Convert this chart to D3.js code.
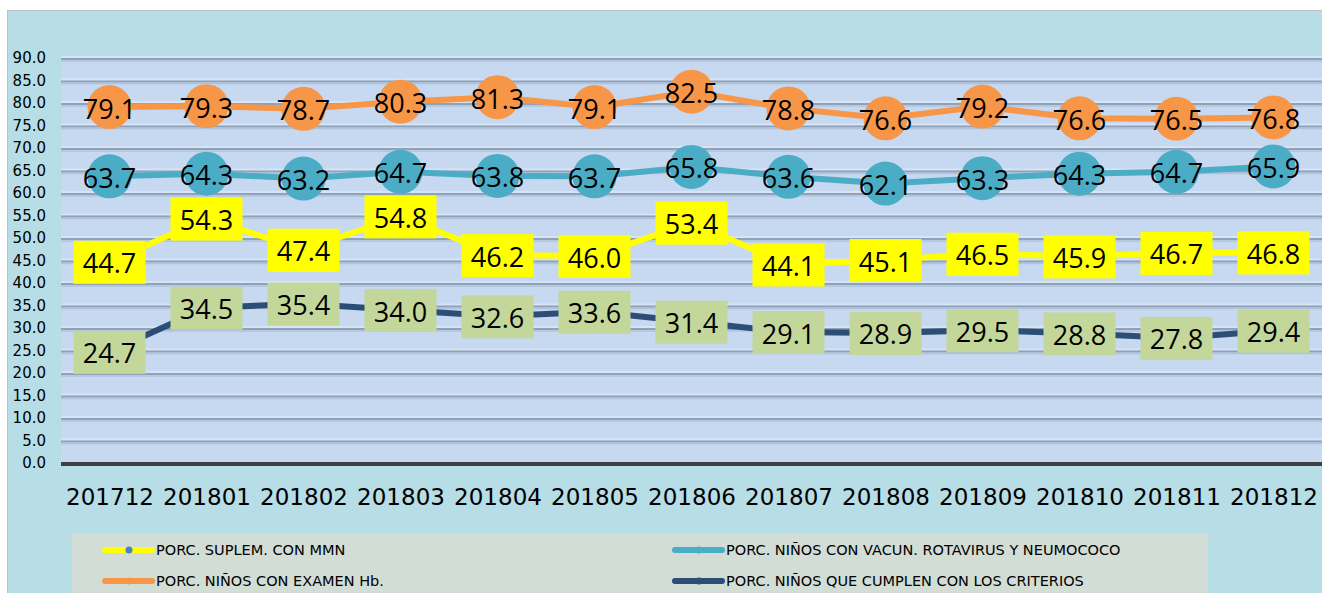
<!DOCTYPE html>
<html>
<head>
<meta charset="utf-8">
<script src="https://cdn.jsdelivr.net/npm/d3@7"></script>
<style>
  body { margin: 0; background: #fff; }
  svg { display: block; }
  text { font-family: "DejaVu Sans", sans-serif; }
</style>
</head>
<body>
<div class="chart"></div>
<script>
// months on the x axis
const months = ['201712','201801','201802','201803','201804','201805','201806',
                '201807','201808','201809','201810','201811','201812'];

// the four series
const examenHb   = [79.1, 79.3, 78.7, 80.3, 81.3, 79.1, 82.5, 78.8, 76.6, 79.2, 76.6, 76.5, 76.8];
const vacunas    = [63.7, 64.3, 63.2, 64.7, 63.8, 63.7, 65.8, 63.6, 62.1, 63.3, 64.3, 64.7, 65.9];
const suplemMMN  = [44.7, 54.3, 47.4, 54.8, 46.2, 46.0, 53.4, 44.1, 45.1, 46.5, 45.9, 46.7, 46.8];
const criterios  = [24.7, 34.5, 35.4, 34.0, 32.6, 33.6, 31.4, 29.1, 28.9, 29.5, 28.8, 27.8, 29.4];

const yTicks = d3.range(0, 90.1, 5);

const W = 1322, H = 593;
const margin = {top: 58, bottom: 130, left: 61, right: 0};

const svg = d3.select('.chart').append('svg')
  .attr('width', W).attr('height', H);

// outer frame
svg.append('rect')
  .attr('x', 7.5).attr('y', 10.5)
  .attr('width', W).attr('height', H)
  .attr('fill', '#b7dde7').attr('stroke', '#bfbfbf');

const x = d3.scalePoint().domain(months)
  .range([margin.left, W - margin.right]).padding(0.5);
const y = d3.scaleLinear().domain([0, 90]).range([463, 58]);

// plot background
svg.append('rect')
  .attr('x', margin.left).attr('y', y(90))
  .attr('width', W - margin.left).attr('height', y(0) - y(90))
  .attr('fill', '#c6d9f1');

// gridlines (a bit shaded like the original)
const grid = svg.append('g');
yTicks.filter(d => d > 0).forEach(t => {
  grid.append('line')
    .attr('x1', margin.left).attr('x2', W)
    .attr('y1', y(t) - 1).attr('y2', y(t) - 1)
    .attr('stroke', '#d8e4f3').attr('stroke-width', 2);
  grid.append('line')
    .attr('x1', margin.left).attr('x2', W)
    .attr('y1', y(t) + 1).attr('y2', y(t) + 1)
    .attr('stroke', '#8fa2bb').attr('stroke-width', 2);
  grid.append('line')
    .attr('x1', margin.left).attr('x2', W)
    .attr('y1', y(t) + 3).attr('y2', y(t) + 3)
    .attr('stroke', '#b2c3d9').attr('stroke-width', 1.5);
});

// y axis labels
const yAxis = d3.axisLeft(y).tickValues(yTicks).tickFormat(d3.format('.1f')).tickSize(0).tickPadding(15);
svg.append('g')
  .attr('transform', `translate(${margin.left},0)`)
  .call(yAxis)
  .call(g => g.select('.domain').remove())
  .selectAll('text')
  .attr('font-size', 15).attr('fill', '#000')
  .style('font-family', '"DejaVu Sans", sans-serif');

// baseline
svg.append('line')
  .attr('x1', margin.left).attr('x2', W)
  .attr('y1', y(0) + 1).attr('y2', y(0) + 1)
  .attr('stroke', '#404040').attr('stroke-width', 4);

// x axis labels
const xAxis = d3.axisBottom(x).tickSize(0).tickPadding(0);
svg.append('g')
  .attr('transform', `translate(0,${y(0) + 26})`)
  .call(xAxis)
  .call(g => g.select('.domain').remove())
  .selectAll('text')
  .attr('font-size', 23).attr('fill', '#000')
  .style('font-family', '"DejaVu Sans", sans-serif');

const line = d3.line()
  .x((d, i) => x(months[i]))
  .y(d => y(d));

const series = [
  {vals: examenHb,  color: '#f79646', label: 'circle', fill: '#f79646'},
  {vals: vacunas,   color: '#4bacc6', label: 'circle', fill: '#4bacc6'},
  {vals: suplemMMN, color: '#ffff00', label: 'box',    fill: '#ffff00', dot: '#4f81bd'},
  {vals: criterios, color: '#2c4d75', label: 'box',    fill: '#c4d79b', dot: '#4f81bd'}
];

series.forEach(s => {
  svg.append('path')
    .datum(s.vals)
    .attr('fill', 'none')
    .attr('stroke', s.color)
    .attr('stroke-width', 6)
    .attr('d', line);

  const g = svg.append('g');
  if (s.label === 'circle') {
    g.selectAll('circle').data(s.vals).enter().append('circle')
      .attr('cx', (d, i) => x(months[i]))
      .attr('cy', d => y(d))
      .attr('r', 22)
      .attr('fill', s.fill);
  } else {
    g.selectAll('circle').data(s.vals).enter().append('circle')
      .attr('cx', (d, i) => x(months[i]))
      .attr('cy', d => y(d))
      .attr('r', 4)
      .attr('fill', s.dot);
    g.selectAll('rect').data(s.vals).enter().append('rect')
      .attr('x', (d, i) => x(months[i]) - 36)
      .attr('y', d => y(d) - 21)
      .attr('width', 72).attr('height', 43)
      .attr('fill', s.fill);
  }
  g.selectAll('text').data(s.vals).enter().append('text')
    .attr('x', (d, i) => x(months[i]))
    .attr('y', d => y(d) + 1)
    .attr('text-anchor', 'middle')
    .attr('dominant-baseline', 'central')
    .attr('font-size', 27)
    .attr('fill', '#000')
    .style('font-family', '"Open Sans", sans-serif')
    .text(d => d3.format('.1f')(d));
});

// legend
const legendItems = [
  {name: 'PORC. SUPLEM. CON MMN', color: '#ffff00', dot: '#4f81bd', col: 0, row: 0},
  {name: 'PORC. NIÑOS CON VACUN. ROTAVIRUS Y NEUMOCOCO', color: '#4bacc6', dot: '#4bacc6', col: 1, row: 0},
  {name: 'PORC. NIÑOS CON EXAMEN Hb.', color: '#f79646', dot: '#f79646', col: 0, row: 1},
  {name: 'PORC. NIÑOS QUE CUMPLEN CON LOS CRITERIOS', color: '#2c4d75', dot: '#2c4d75', col: 1, row: 1}
];

svg.append('rect')
  .attr('x', 72).attr('y', 533)
  .attr('width', 1136).attr('height', 70)
  .attr('fill', '#d2ddd6');

const colX = [105, 675];
const rowY = [550, 581];
const lg = svg.append('g');
legendItems.forEach(it => {
  const lx = colX[it.col], ly = rowY[it.row];
  lg.append('line')
    .attr('x1', lx).attr('x2', lx + 47)
    .attr('y1', ly).attr('y2', ly)
    .attr('stroke', it.color).attr('stroke-width', 6)
    .attr('stroke-linecap', 'round');
  lg.append('circle')
    .attr('cx', lx + 24).attr('cy', ly).attr('r', 3.5)
    .attr('fill', it.dot);
  lg.append('text')
    .attr('x', lx + 51).attr('y', ly)
    .attr('dominant-baseline', 'central')
    .attr('font-size', 14.5)
    .attr('fill', '#000')
    .text(it.name);
});
</script>
</body>
</html>
